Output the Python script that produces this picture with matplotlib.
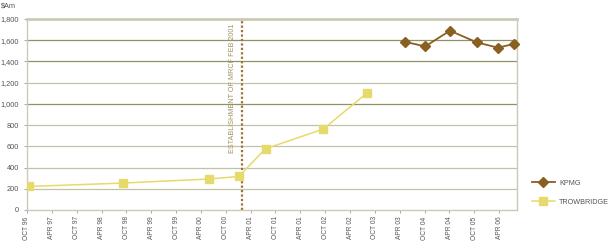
import matplotlib.pyplot as plt
from matplotlib.ticker import FuncFormatter

plt.rcParams['font.family'] = ['Liberation Sans', 'DejaVu Sans']

# x positions in half-year steps from OCT 96
tick_labels = ["OCT 96", "APR 97", "OCT 97", "APR 98", "OCT 98", "APR 99",
               "OCT 99", "APR 00", "OCT 00", "APR 01", "OCT 01", "APR 01",
               "OCT 02", "APR 02", "OCT 03", "APR 03", "OCT 04", "APR 04",
               "OCT 05", "APR 06"]

trow_x = [0.09, 3.88, 7.32, 8.52, 9.6, 11.92, 13.67]
trow_y = [222, 254, 292, 316, 577, 762, 1100]

kpmg_x = [15.2, 16.03, 17.02, 18.1, 18.95, 19.6]
kpmg_y = [1585, 1542, 1690, 1580, 1530, 1565]

mrcf_x = 8.67  # FEB 2001

fig = plt.figure(figsize=(6.09, 2.46), dpi=100)
ax = fig.add_axes([27 / 609, 1 - 210 / 246, 490 / 609, 191 / 246])

ax.set_xlim(0, 19.72)
ax.set_ylim(0, 1800)

dark = "#8f9262"
light = "#c2c2a6"
for v in range(200, 1800, 200):
    c = dark if v in (1000, 1400, 1600) else light
    ax.axhline(v, color=c, lw=0.9, zorder=1)

ax.plot(trow_x, trow_y, color="#e6da6c", lw=1.1, marker="s", ms=6,
        mfc="#e6da6c", mec="#e6da6c", label="TROWBRIDGE", zorder=3)
ax.plot(kpmg_x, kpmg_y, color="#8a5f22", lw=1.3, marker="D", ms=5.5,
        mfc="#8a5f22", mec="#8a5f22", label="KPMG", zorder=4, clip_on=False)

ax.axvline(mrcf_x, color="#9a7434", lw=1.6, ls=(0, (1, 1)), zorder=2)
ax.text(mrcf_x - 0.38, 1760, "ESTABLISHMENT OF MRCF FEB 2001", rotation=90,
        ha="center", va="top", fontsize=5.2, color="#a39163")

ax.set_xticks(range(len(tick_labels)))
ax.set_xticklabels(tick_labels, rotation=90, fontsize=4.8, color="#555555")
ax.set_yticks(range(0, 1801, 200))
ax.yaxis.set_major_formatter(FuncFormatter(lambda v, p: f"{int(v):,}"))
ax.tick_params(axis="y", labelsize=5.3, colors="#555555", length=2.5, width=0.6, pad=3)
ax.tick_params(axis="x", length=2.5, width=0.6, color="#999999", pad=2)
ax.tick_params(axis="y", color="#999999")

for side in ["top", "right", "left", "bottom"]:
    ax.spines[side].set_color("#cacab6")
    ax.spines[side].set_linewidth(1)
ax.spines["top"].set_linewidth(2)

handles, labels = ax.get_legend_handles_labels()
fig.legend(handles[::-1], labels[::-1], loc="lower left",
           bbox_to_anchor=(525 / 609, 1 - 212 / 246), frameon=False,
           fontsize=5.2, labelcolor="#555555", handlelength=3.2,
           labelspacing=1.6, handletextpad=0.6)

fig.text(0.002, 0.99, r"\$Am", fontsize=5.3, color="#555555", ha="left", va="top")

fig.savefig("out.png", dpi=100)
